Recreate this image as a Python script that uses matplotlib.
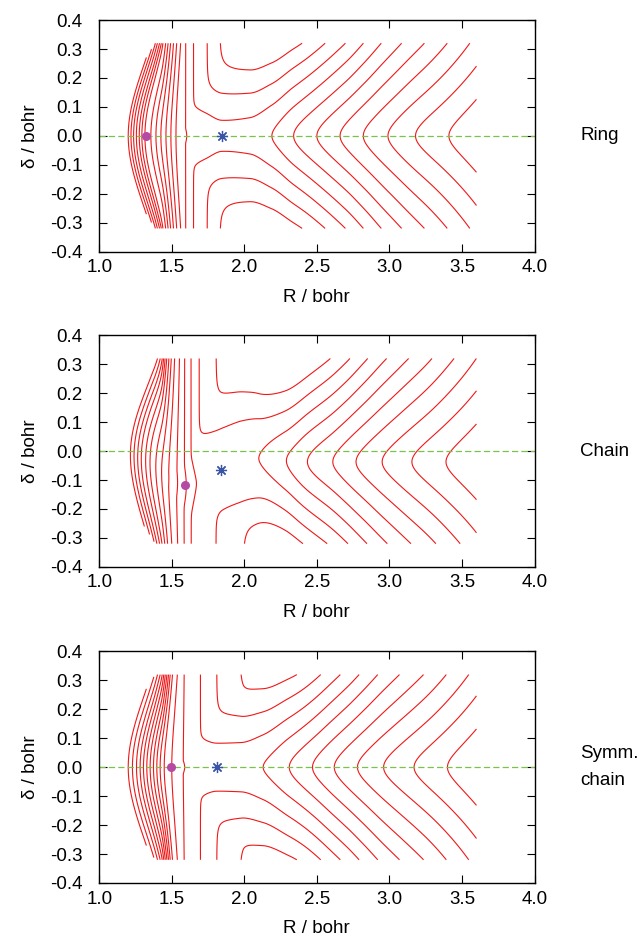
import numpy as np
import matplotlib
matplotlib.use("Agg")
import matplotlib.pyplot as plt
from matplotlib.ticker import FormatStrFormatter, MultipleLocator

plt.rcParams['font.family'] = ['Liberation Sans', 'DejaVu Sans']

# ---- values ----
names = ['Ring', 'Chain', 'Symm.\nchain']

# markers (R, delta)
dot_R = [1.323, 1.592, 1.495]
dot_d = [0.0, -0.118, 0.0]
star_R = [1.845, 1.84, 1.81]
star_d = [0.0, -0.066, 0.0]

# contour crossings along the centre line: R and level (saddle = 0)
ring_R = [1.19, 1.20, 1.219, 1.237, 1.256, 1.276, 1.294, 1.315, 1.356, 1.391, 1.425, 1.46, 1.494, 1.529,
          1.603, 1.65, 1.74, 1.845, 2.04, 2.19, 2.34, 2.50, 2.66, 2.82, 2.99, 3.18, 3.41, 3.6]
ring_E = [-14.3, -13.7, -12.7, -11.7, -10.7, -9.7, -8.7, -7.7, -6.7, -5.7, -4.7, -3.7, -2.7, -1.7,
          -0.7, -0.42, -0.2, 0.0, -0.12, -0.7, -1.7, -2.7, -3.7, -4.7, -5.7, -6.7, -7.7, -8.5]
chain_R = [1.19, 1.215, 1.24, 1.265, 1.29, 1.32, 1.35, 1.39, 1.43, 1.48, 1.54, 1.60, 1.67, 1.75, 1.84,
           1.98, 2.10, 2.29, 2.435, 2.61, 2.77, 2.95, 3.155, 3.39, 3.6]
chain_E = [-12.26, -11.26, -10.26, -9.26, -8.26, -7.26, -6.26, -5.26, -4.26, -3.26, -2.26, -1.26, -0.26,
           -0.1, 0.0, -0.08, -0.26, -1.26, -2.26, -3.26, -4.26, -5.26, -6.26, -7.26, -8.1]
symm_R = [1.19, 1.20, 1.229, 1.257, 1.282, 1.305, 1.328, 1.351, 1.374, 1.397, 1.42, 1.448, 1.50, 1.589,
          1.70, 1.81, 1.98, 2.13, 2.31, 2.47, 2.62, 2.78, 2.96, 3.17, 3.40, 3.6]
symm_E = [-13.0, -12.45, -11.45, -10.45, -9.45, -8.45, -7.45, -6.45, -5.45, -4.45, -3.45, -2.45, -1.45,
          -0.45, -0.15, 0.0, -0.06, -0.45, -1.45, -2.45, -3.45, -4.45, -5.45, -6.45, -7.45, -8.3]
profiles = [(ring_R, ring_E), (chain_R, chain_E), (symm_R, symm_E)]
top_level = [2.3, 1.74, 2.55]   # highest drawn contour in each panel

# left side: how far right a contour has moved when it reaches |delta| = 0.32
bend_R = [1.19, 1.30, 1.373, 1.401, 1.428, 1.458, 1.492, 1.534, 1.561, 1.60, 1.62]
bend_S = [[0.17, 0.165, 0.154, 0.145, 0.134, 0.102, 0.067, 0.04, 0.032, 0.0, 0.0],
          [0.17, 0.165, 0.154, 0.145, 0.13, 0.09, 0.05, 0.02, 0.01, 0.0, 0.0],
          [0.17, 0.165, 0.154, 0.145, 0.134, 0.102, 0.067, 0.04, 0.032, 0.0, 0.0]]

# height of the ridge on either side of the centre line (upper, lower half)
ridge_up = [([1.57, 1.61, 1.65, 1.745, 1.835, 1.95, 2.05, 2.2, 2.5, 3.6], [0, 0.12, 0.72, 1.5, 2.35, 3.3, 4.5, 8, 30, 100]),
            ([1.45, 1.55, 1.62, 1.69, 1.81, 1.95, 2.1, 2.3, 2.6, 3.6], [0, 0.1, 0.35, 0.95, 1.8, 3.0, 5, 10, 30, 100]),
            ([1.56, 1.60, 1.70, 1.81, 1.975, 2.0, 2.1, 2.3, 2.6, 3.6], [0, 0.12, 0.72, 1.55, 2.7, 3.1, 4.2, 9, 30, 100])]
ridge_dn = [ridge_up[0],
            ([1.45, 1.55, 1.65, 1.75, 1.81, 1.9, 2.0, 2.1, 2.3, 2.6, 3.6], [0, 0.15, 0.45, 0.6, 0.78, 1.2, 1.9, 3.5, 10, 30, 100]),
            ridge_up[2]]
# slope across the centre line
slope = [([1.6, 1.74, 1.85, 2.04, 2.45, 2.7, 2.82, 2.95, 3.09, 3.24, 3.40, 3.6],
          [10, 11.2, 12, 13, 15.8, 15.2, 14.4, 13.4, 12.6, 11.8, 10.6, 9.0]),
         ([1.45, 1.85, 2.04, 2.45, 2.7, 2.82, 2.95, 3.09, 3.24, 3.40, 3.6],
          [10, 10.3, 12, 15.8, 15.2, 14.4, 13.4, 12.6, 11.8, 10.6, 9.0]),
         ([1.6, 1.75, 1.88, 2.0, 2.45, 2.7, 2.82, 2.95, 3.09, 3.24, 3.40, 3.6],
          [10, 11, 11.3, 12, 15.8, 15.2, 14.4, 13.4, 12.6, 11.8, 10.6, 9.0])]
rounding = [([1.19, 3.6], [0.045, 0.045]),
            ([1.19, 1.6, 1.95, 2.3, 3.6], [0.045, 0.1, 0.1, 0.045, 0.045]),
            ([1.19, 3.6], [0.045, 0.045])]
# centre line of the contours
centre = [([1.19, 3.6], [0, 0]),
          ([1.19, 1.35, 1.5, 1.62, 1.72, 1.85, 2.1, 2.4, 3.6],
           [-0.01, -0.04, -0.1, -0.12, -0.1, -0.06, -0.025, -0.037, -0.037]),
          ([1.19, 3.6], [0, 0])]


def pchip(x, y, xq):
    x = np.asarray(x, float)
    y = np.asarray(y, float)
    h = np.diff(x)
    d = np.diff(y) / h
    m = np.zeros_like(y)
    for k in range(1, len(x) - 1):
        if d[k - 1] * d[k] > 0:
            w1 = 2 * h[k] + h[k - 1]
            w2 = h[k] + 2 * h[k - 1]
            m[k] = (w1 + w2) / (w1 / d[k - 1] + w2 / d[k])
    m[0] = d[0]
    m[-1] = d[-1]
    xq = np.clip(xq, x[0], x[-1])
    i = np.clip(np.searchsorted(x, xq) - 1, 0, len(h) - 1)
    t = (xq - x[i]) / h[i]
    return ((1 + 2 * t) * (1 - t) ** 2 * y[i] + t * (1 - t) ** 2 * h[i] * m[i]
            + t * t * (3 - 2 * t) * y[i + 1] + t * t * (t - 1) * h[i] * m[i + 1])


RR, DD = np.meshgrid(np.linspace(1.19, 3.6, 900), np.linspace(-0.32, 0.32, 451))
# the computed grid has its two left corners cut off
cut = (np.abs(DD) > 0.165) & (RR < 1.19 + (np.abs(DD) - 0.165) * 1.258)


def surface(p):
    dd = DD - pchip(*centre[p], RR)
    g = (np.sqrt(0.04 + dd ** 2) - 0.2) / (np.sqrt(0.04 + 0.32 ** 2) - 0.2)
    A = pchip(*profiles[p], RR - pchip(bend_R, bend_S[p], RR) * g)
    w = pchip(*rounding[p], RR)
    x = pchip(*slope[p], RR) * (np.sqrt(w ** 2 + dd ** 2) - w)
    M = np.where(dd > 0, pchip(*ridge_up[p], RR), pchip(*ridge_dn[p], RR))
    M = np.maximum(M, 1e-6)
    T = x * (1 + (x / M) ** 6) ** (-1 / 6)
    return np.ma.array(A + T, mask=cut)


fig = plt.figure(figsize=(6.38, 9.38), dpi=100)
bottoms = [0.7318, 0.3957, 0.0587]

for p in range(3):
    ax = fig.add_axes([0.1555, bottoms[p], 0.6823, 0.2468])
    levels = np.arange(top_level[p] - 22, top_level[p] + 0.01, 1.0)
    ax.contour(RR, DD, surface(p), levels=levels, colors='#f01818', linewidths=0.8,
               linestyles='solid')
    ax.axhline(0, color='#7cc24a', lw=0.9, ls=(0, (5, 2.5)))
    ax.plot(dot_R[p], dot_d[p], 'o', color='#b44aa3', ms=6.5, mec='none')
    ax.plot(star_R[p], star_d[p], marker=(8, 2, 0), color='#3a55a5', ms=8, mew=0.9)

    ax.set_xlim(1.0, 4.0)
    ax.set_ylim(-0.4, 0.4)
    ax.xaxis.set_major_locator(MultipleLocator(0.5))
    ax.yaxis.set_major_locator(MultipleLocator(0.1))
    ax.xaxis.set_major_formatter(FormatStrFormatter('%.1f'))
    ax.yaxis.set_major_formatter(FormatStrFormatter('%.1f'))
    ax.tick_params(direction='in', top=True, right=True, length=6, width=0.8, labelsize=13.5)
    ax.tick_params(axis='x', pad=5.5)
    ax.tick_params(axis='y', pad=12)
    for s in ax.spines.values():
        s.set_linewidth(1.0)
    ax.set_xlabel('R / bohr', fontsize=13.5, labelpad=9)
    ax.set_ylabel('δ / bohr', fontsize=13.5, labelpad=8)
    ax.text(1.1045, 0.5, names[p], transform=ax.transAxes, fontsize=13.5,
            va='center', ha='left', linespacing=1.75)

fig.savefig('out.png', dpi=100)
